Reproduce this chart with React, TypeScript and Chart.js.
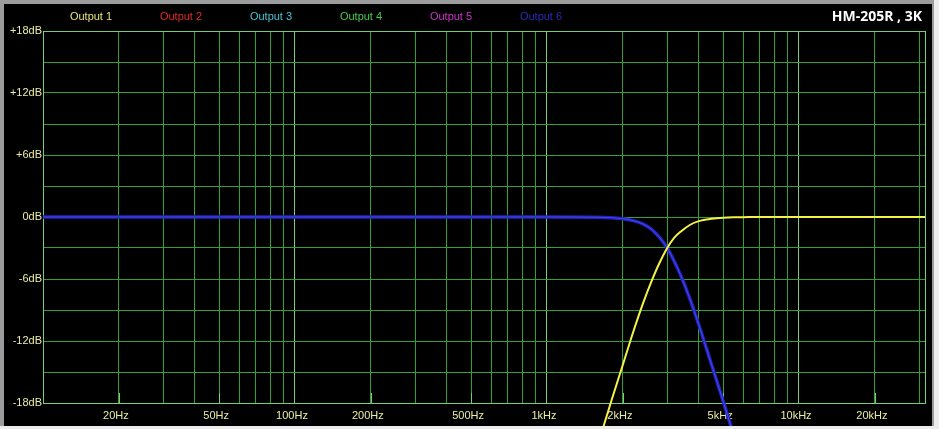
import { useEffect, useRef } from "react";
import { Chart, registerables } from "chart.js";

Chart.register(...registerables);

// ---- data ----
const frequenciesHz = [10, 20, 50, 100, 200, 500, 1000, 1500, 1800, 2000, 2200, 2400, 2600, 2800, 3000, 3200, 3400, 3700, 4000, 4500, 5000, 5500, 6000, 7000, 8000, 10000, 15000, 20000, 31623];
const output1Db = [null, null, null, null, null, null, -38.2, -24.1, -17.8, -14.3, -11.1, -8.4, -6.2, -4.4, -3.0, -2.0, -1.4, -0.75, -0.4, -0.17, -0.07, -0.03, -0.02, 0, 0, 0, 0, 0, 0];
const output6Db = [0, 0, 0, 0, 0, 0, 0, -0.02, -0.07, -0.17, -0.35, -0.67, -1.2, -2.0, -3.0, -4.3, -5.7, -8.0, -10.4, -14.3, -17.8, -21.1, -24.1, -29.4, -34.1, null, null, null, null];

const seriesLabels = ["Output 1", "Output 2", "Output 3", "Output 4", "Output 5", "Output 6"];
const legendColors = ["#e2e27a", "#e02a2a", "#46c4d4", "#4cc84c", "#cc34cc", "#2a2ab8"];
const lineColors = ["#f4f446", "#e02a2a", "#46c4d4", "#4cc84c", "#cc34cc", "#2222c4"];

const xGridValues = [10, 20, 30, 40, 50, 60, 70, 80, 90, 100, 200, 300, 400, 500, 600, 700, 800, 900, 1000, 2000, 3000, 4000, 5000, 6000, 7000, 8000, 9000, 10000, 20000, 30000];
const xTickValues = [20, 50, 100, 200, 500, 1000, 2000, 5000, 10000, 20000];
const xTickLabels = ["20Hz", "50Hz", "100Hz", "200Hz", "500Hz", "1kHz", "2kHz", "5kHz", "10kHz", "20kHz"];
const yTickValues = [18, 12, 6, 0, -6, -12, -18];
const yTickLabels = ["+18dB", "+12dB", "+6dB", "0dB", "-6dB", "-12dB", "-18dB"];
const chartTitle = "HM-205R , 3K";

const X_MIN = 10;
const X_MAX = 31623;
const GRID = "rgb(52,160,52)";
const GRID_BRIGHT = "rgb(118,206,118)";
const LABEL = "#ececa4";
const FONT = 'Arial, "Liberation Sans", sans-serif';

const isDecade = (v: number) => {
  const l = Math.log10(v);
  return Math.abs(l - Math.round(l)) < 1e-9;
};

const toPoints = (ys: (number | null)[]) =>
  frequenciesHz.map((f, i) => ({ x: f, y: ys[i] }));

const decorPlugin = {
  id: "decor",
  beforeDatasetsDraw(chart: any) {
    const { ctx, chartArea: a } = chart;
    const xs = chart.scales.x;
    ctx.save();
    ctx.lineWidth = 1;
    ctx.strokeStyle = GRID_BRIGHT;
    xTickValues.forEach((v) => {
      if (isDecade(v)) return;
      const x = Math.round(xs.getPixelForValue(v)) + 0.5;
      ctx.beginPath();
      ctx.moveTo(x, a.bottom);
      ctx.lineTo(x, a.bottom - 10);
      ctx.stroke();
    });
    ctx.strokeRect(a.left + 0.5, a.top + 0.5, a.right - a.left, a.bottom - a.top);
    ctx.restore();
  },
  afterDatasetDraw(chart: any, args: any) {
    // lighter core on the blue trace (double-line look)
    if (args.index !== 5) return;
    const el = args.meta.dataset;
    if (!el || !el.points || !el.points.length) return;
    const saved = el.options;
    el.options = Object.assign(Object.create(Object.getPrototypeOf(saved)), saved, {
      borderColor: "#5050e8",
      borderWidth: 0.8,
    });
    const ctx = chart.ctx;
    ctx.save();
    el.draw(ctx, chart.chartArea);
    ctx.restore();
    el.options = saved;
  },
  afterDraw(chart: any) {
    const { ctx } = chart;
    ctx.save();
    ctx.font = `11px ${FONT}`;
    ctx.textAlign = "center";
    ctx.textBaseline = "middle";
    seriesLabels.forEach((lab, i) => {
      ctx.fillStyle = legendColors[i];
      ctx.fillText(lab, 87 + i * 90, 13);
    });
    ctx.font = `bold 14px "Open Sans", "DejaVu Sans", sans-serif`;
    ctx.textAlign = "right";
    ctx.fillStyle = "#ffffff";
    ctx.fillText(chartTitle, 918, 13);
    ctx.restore();
  },
};

export default function App() {
  const canvasRef = useRef<HTMLCanvasElement | null>(null);

  useEffect(() => {
    const canvas = canvasRef.current;
    if (!canvas) return;
    const datasets = seriesLabels.map((label, i) => ({
      label,
      data: i === 0 ? toPoints(output1Db) : i === 5 ? toPoints(output6Db) : [],
      borderColor: lineColors[i],
      backgroundColor: lineColors[i],
      borderWidth: i === 5 ? 3.5 : 2,
      pointRadius: 0,
      pointHoverRadius: 0,
      fill: false,
      cubicInterpolationMode: "monotone" as const,
      spanGaps: false,
      clip: false as const,
    }));

    const chart = new Chart(canvas, {
      type: "line",
      data: { datasets },
      plugins: [decorPlugin],
      options: {
        responsive: false,
        animation: false,
        events: [],
        layout: { padding: { top: 27, right: 7, left: 0, bottom: 0 } },
        plugins: {
          legend: { display: false },
          title: { display: false },
          tooltip: { enabled: false },
        },
        scales: {
          x: {
            type: "logarithmic",
            min: X_MIN,
            max: X_MAX,
            afterBuildTicks: (scale: any) => {
              scale.ticks = xGridValues.map((v) => ({ value: v }));
            },
            afterFit: (scale: any) => {
              scale.height = 23;
            },
            border: { display: false },
            grid: {
              drawTicks: false,
              lineWidth: 1,
              color: (c: any) => (c.tick && isDecade(c.tick.value) ? GRID_BRIGHT : GRID),
            },
            ticks: {
              autoSkip: false,
              maxRotation: 0,
              minRotation: 0,
              padding: 6,
              labelOffset: -3,
              color: LABEL,
              font: { size: 11, family: FONT },
              callback: (value: any) => {
                const idx = xTickValues.indexOf(Number(value));
                return idx >= 0 ? xTickLabels[idx] : "";
              },
            },
          },
          y: {
            type: "linear",
            min: -18,
            max: 18,
            afterFit: (scale: any) => {
              scale.width = 39;
            },
            border: { display: false },
            grid: { drawTicks: false, lineWidth: 1, color: GRID },
            ticks: {
              stepSize: 3,
              autoSkip: false,
              padding: 1,
              color: LABEL,
              font: { size: 11, family: FONT },
              callback: (value: any) => {
                const idx = yTickValues.indexOf(Number(value));
                return idx >= 0 ? yTickLabels[idx] : "";
              },
            },
          },
        },
      },
    });
    return () => chart.destroy();
  }, []);

  return (
    <div style={{ position: "absolute", left: 0, top: 0, width: 939, height: 429, background: "#ececec", overflow: "hidden" }}>
      <div style={{ position: "absolute", left: 0, top: 0, width: 934, height: 426, background: "#9c9c9c" }} />
      <canvas
        ref={canvasRef}
        width={928}
        height={422}
        style={{ position: "absolute", left: 4, top: 4, width: 928, height: 422, background: "#000000", display: "block" }}
      />
    </div>
  );
}
